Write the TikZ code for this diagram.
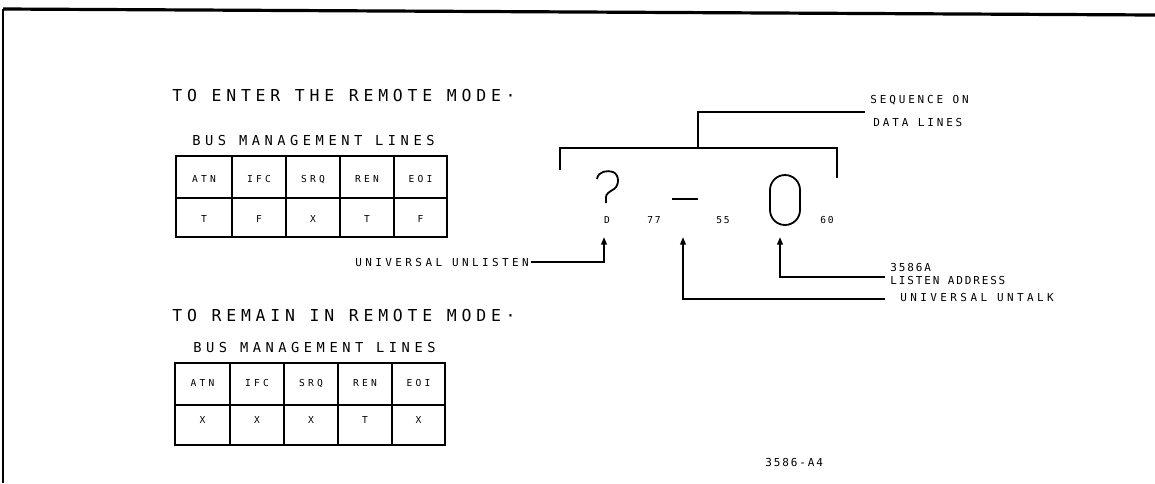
\documentclass[tikz,border=0pt]{standalone}
\usepackage{fontspec}
\usetikzlibrary{arrows.meta}
\newfontfamily\fTitle{DejaVu Sans Mono}[LetterSpace=29]
\newfontfamily\fBus{DejaVu Sans Mono}[LetterSpace=33]
\newfontfamily\fCell{DejaVu Sans Mono}[LetterSpace=33]
\newfontfamily\fLab{DejaVu Sans Mono}[LetterSpace=31]
\newfontfamily\fSeq{DejaVu Sans Mono}[LetterSpace=26]
\newfontfamily\fLis{DejaVu Sans Mono}[LetterSpace=17]
\begin{document}
\begin{tikzpicture}[x=0.5pt,y=-0.5pt,
  lbl/.style={inner sep=0pt, text depth=0pt},
  ttl/.style={lbl, anchor=west, text height=6pt, font=\fTitle\fontsize{8.23pt}{9pt}\selectfont},
  bus/.style={lbl, anchor=west, text height=5pt, font=\fBus\fontsize{6.86pt}{8pt}\selectfont},
  cell/.style={lbl, text height=3.5pt, font=\fCell\fontsize{4.8pt}{6pt}\selectfont},
  lab/.style={lbl, anchor=west, text height=4pt, font=\fLab\fontsize{5.49pt}{6pt}\selectfont},
  seq/.style={lbl, anchor=west, text height=4pt, font=\fSeq\fontsize{5.49pt}{6pt}\selectfont},
  lis/.style={lbl, anchor=west, text height=4pt, font=\fLis\fontsize{5.49pt}{6pt}\selectfont},
  num/.style={lbl, text height=3.5pt, font=\fLis\fontsize{4.8pt}{6pt}\selectfont},
  tbl/.style={line width=0.85pt},
  wire/.style={line width=0.9pt},
  arr/.style={wire, -{Triangle[width=2.8pt,length=3.8pt]}}
]
\useasboundingbox (0,0) rectangle (1155,483);
% frame
\draw[line width=1.6pt] (3,9) -- (1155,15);
\draw[line width=0.6pt] (3,9) -- (3,483);

% titles
\node[ttl] (title1) at (172,95) {TO ENTER THE REMOTE MODE·};
\node[bus] (bus1) at (192,140) {BUS MANAGEMENT LINES};
\node[ttl] (title2) at (172,315) {TO REMAIN IN REMOTE MODE·};
\node[bus] (bus2) at (193,347) {BUS MANAGEMENT LINES};

% table 1
\draw[tbl] (176,156) rectangle (447,237);
\draw[tbl] (176,198) -- (447,198);
\foreach \x in {232,286,340,394} \draw[tbl] (\x,156) -- (\x,237);
\foreach \x/\t [count=\i] in {204/ATN,259/IFC,313/SRQ,367/REN,420.5/EOI}
  \node[cell] (ha\i) at (\x,179) {\t};
\foreach \x/\t [count=\i] in {204/T,259/F,313/X,367/T,420.5/F}
  \node[cell] (va\i) at (\x,219) {\t};

% table 2
\draw[tbl] (175,363) rectangle (445,445);
\draw[tbl] (175,405) -- (445,405);
\foreach \x in {230,284,338,392} \draw[tbl] (\x,363) -- (\x,445);
\foreach \x/\t [count=\i] in {202.5/ATN,257/IFC,311/SRQ,365/REN,418.5/EOI}
  \node[cell] (hb\i) at (\x,383) {\t};
\foreach \x/\t [count=\i] in {202.5/X,257/X,311/X,365/T,418.5/X}
  \node[cell] (vb\i) at (\x,420) {\t};

% sequence bracket
\draw[wire] (560,170) -- (560,148) -- (837,148) -- (837,178);
\draw[wire] (698,148) -- (698,112) -- (865,112);
\node[seq] (seq1) at (870,99) {SEQUENCE ON};
\node[seq] (seq2) at (873,122) {DATA LINES};

% characters on the data lines
\draw[line width=0.9pt] (597,179) .. controls (598,171) and (608,170) .. (613,172)
  .. controls (620,175) and (619,186) .. (614,189)
  .. controls (609,192) and (606,194) .. (606,197) -- (606,203);
\node[num] (cD) at (607,220) {D};
\node[num] (c77) at (654,220) {77};
\draw[line width=1pt] (672,199) -- (698,199);
\node[num] (c55) at (723,220) {55};
\node[draw, line width=0.9pt, minimum width=15pt, minimum height=25pt,
  rounded corners=7.5pt, inner sep=0pt] (oval) at (785,200) {};
\node[num] (c60) at (827,220) {60};

% arrow targets
\coordinate (a1) at (604,237);
\coordinate (a2) at (683,237);
\coordinate (a3) at (780,237);
\coordinate (e2) at (885,299);
\coordinate (e3) at (885,277);

\node[lab] (unl) at (355,262) {UNIVERSAL UNLISTEN};
\draw[arr] ([xshift=1pt]unl.east) -| (a1);
\draw[arr] (e2) -| (a2);
\draw[arr] (e3) -| (a3);
\node[lab] (unt) at (900,297) {UNIVERSAL UNTALK};
\node[lis] (addr1) at (890,267) {3586A};
\node[lis] (addr2) at (890,280) {LISTEN ADDRESS};

\node[lis] (fig) at (765,462) {3586-A4};
\end{tikzpicture}
\end{document}
